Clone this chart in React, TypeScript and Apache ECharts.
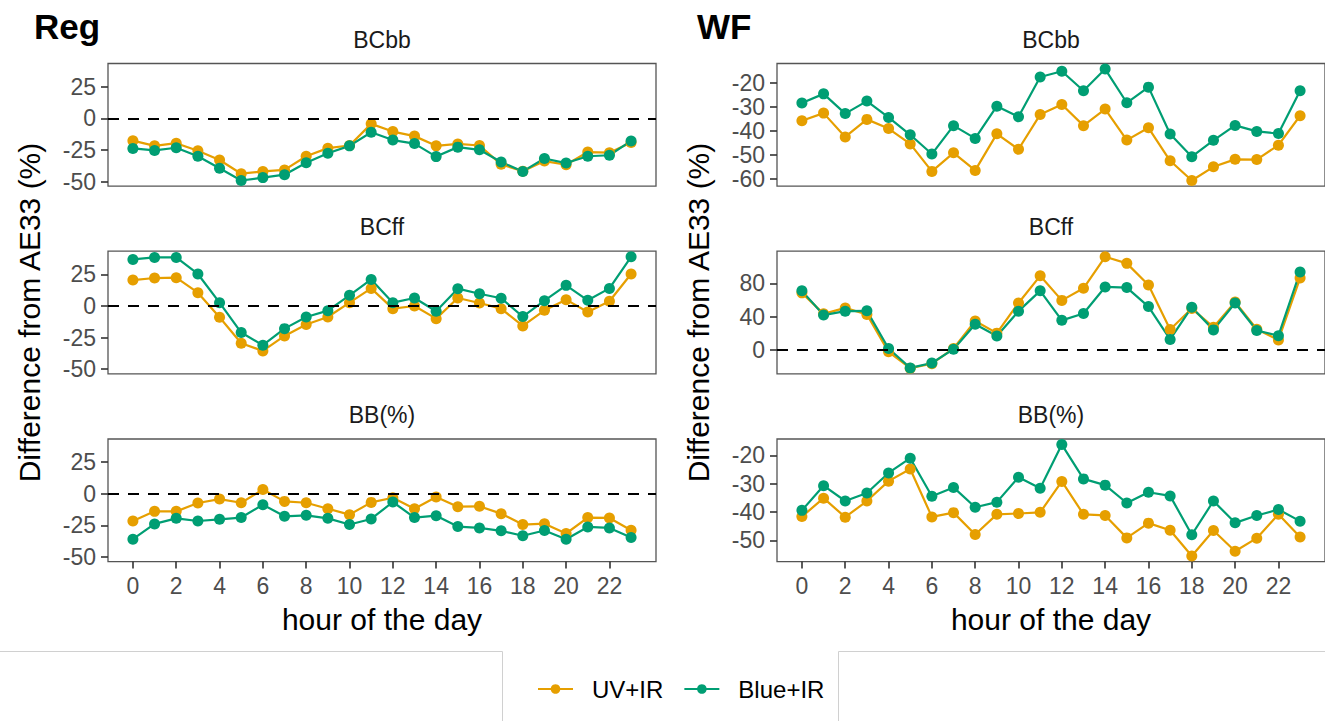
import React, { useEffect, useRef } from "react";
import * as echarts from "echarts";

const HOURS = [0, 1, 2, 3, 4, 5, 6, 7, 8, 9, 10, 11, 12, 13, 14, 15, 16, 17, 18, 19, 20, 21, 22, 23];
const X_TICKS = [0, 2, 4, 6, 8, 10, 12, 14, 16, 18, 20, 22];

// Reg
const REG_BCBB_UV = [-17.7, -21.8, -19.7, -25.6, -33, -43.8, -42, -40.8, -30, -23.6, -21.5, -4.4, -10.5, -14.1, -21.8, -20.3, -21.5, -36.4, -41.8, -33.8, -36.7, -26.7, -27.2, -19.2];
const REG_BCBB_BLUE = [-23.8, -25.4, -23.3, -30, -39.5, -49.2, -46.9, -44.6, -35.1, -27.7, -21.8, -11, -17.2, -20, -30.3, -22.8, -24.9, -34.6, -42, -31.8, -35.4, -30, -29.2, -17.9];
const REG_BCFF_UV = [20.5, 22.1, 22.4, 10.5, -8.9, -29.5, -35.5, -23.7, -14.7, -8.7, 2.6, 13.9, -2.1, 0, -10, 6.3, 2.4, -2.1, -15.8, -3.4, 5, -4.7, 3.7, 25.3];
const REG_BCFF_BLUE = [36.8, 38.4, 38.4, 25.3, 2.6, -21, -31, -17.9, -8.7, -3.7, 8.4, 21, 2.6, 6.3, -4.2, 13.7, 9.7, 6.1, -8.4, 4.2, 16.3, 4.5, 13.9, 38.9];
const REG_BB_UV = [-21.5, -13.9, -13.9, -7.3, -4.2, -7.1, 3.4, -6, -7.1, -11.8, -16.5, -6.8, -3.1, -11.8, -2.6, -10.2, -9.9, -15.7, -24.3, -23.6, -31.4, -18.8, -19.1, -28.8];
const REG_BB_BLUE = [-35.9, -23.8, -19.4, -21.5, -20.2, -18.8, -8.6, -17.8, -17, -19.4, -24.3, -19.9, -6.5, -18.8, -17.3, -25.9, -27, -29.3, -33.2, -29, -35.9, -26.2, -27, -34.6];
const REG_TICKS = [-50, -25, 0, 25];

// WF
const WF_BCBB_UV = [-35.9, -32.7, -42.6, -35.3, -39.1, -45.5, -56.9, -49.2, -56.5, -41.3, -47.7, -33.3, -29.1, -37.9, -31, -43.9, -38.8, -52.5, -60.7, -55, -51.9, -52, -46, -33.8];
const WF_BCBB_BLUE = [-28.5, -24.7, -32.9, -27.7, -34.5, -41.7, -49.7, -37.9, -43.2, -29.8, -34.2, -17.7, -15.3, -23.4, -14.4, -28.4, -21.9, -41.4, -50.8, -44, -37.8, -40.3, -41.2, -23.4];
const WF_BCFF_UV = [68.6, 43.5, 50.6, 42.7, -2, -21.6, -16.1, 2, 34.9, 20.4, 56.5, 89, 59.6, 74.1, 111.8, 103.9, 78, 24.7, 49.8, 27.5, 57.6, 25.1, 12.2, 86.3];
const WF_BCFF_BLUE = [71, 42, 46.7, 47.1, 2, -21.2, -15.3, 1.2, 31, 16.9, 46.7, 71, 35.7, 43.9, 75.7, 74.9, 52.2, 12.9, 51.4, 24.3, 56.5, 23.5, 17.3, 93.7];
const WF_BB_UV = [-41.6, -35.1, -41.8, -36.1, -29.1, -24.8, -41.7, -40.2, -47.9, -40.8, -40.5, -40.1, -29.2, -40.8, -41.2, -49.1, -43.9, -46.4, -55.5, -46.5, -53.8, -49.2, -40.8, -48.8];
const WF_BB_BLUE = [-39.4, -30.7, -36.1, -33.3, -26.2, -21, -34.4, -31.3, -38.3, -36.5, -27.7, -31.6, -16.2, -28.3, -30.5, -36.8, -33, -34.3, -48, -36.1, -43.8, -41.2, -39.1, -43.2];
const WF_BCBB_TICKS = [-60, -50, -40, -30, -20];
const WF_BCFF_TICKS = [0, 40, 80];
const WF_BB_TICKS = [-50, -40, -30, -20];

const COL_TAGS = ["Reg", "WF"];
const STRIPS = ["BCbb", "BCff", "BB(%)"];
const SERIES_NAMES = ["UV+IR", "Blue+IR"];
const COLORS = ["#E69F00", "#009E73"];

const FONT = "Liberation Sans";
const COL_LEFT = [108, 777];
const PANEL_W = 548;
const ROW_TOP = [63.5, 251.2, 439];
const PANEL_H = 122.6;

const expand = (arrs: number[][]) => {
  const all = arrs.flat();
  const lo = Math.min(...all);
  const hi = Math.max(...all);
  const pad = (hi - lo) * 0.05;
  return [lo - pad, hi + pad];
};

const App: React.FC = () => {
  const chartRef = useRef<HTMLDivElement>(null);

  useEffect(() => {
    if (!chartRef.current) return;
    const chart = echarts.init(chartRef.current, null, { renderer: "svg" });

    const regRange = expand([REG_BCBB_UV, REG_BCBB_BLUE, REG_BCFF_UV, REG_BCFF_BLUE, REG_BB_UV, REG_BB_BLUE]);
    const panels = [
      { col: 0, row: 0, uv: REG_BCBB_UV, blue: REG_BCBB_BLUE, ticks: REG_TICKS, range: regRange, zero: true },
      { col: 0, row: 1, uv: REG_BCFF_UV, blue: REG_BCFF_BLUE, ticks: REG_TICKS, range: regRange, zero: true },
      { col: 0, row: 2, uv: REG_BB_UV, blue: REG_BB_BLUE, ticks: REG_TICKS, range: regRange, zero: true },
      { col: 1, row: 0, uv: WF_BCBB_UV, blue: WF_BCBB_BLUE, ticks: WF_BCBB_TICKS, range: expand([WF_BCBB_UV, WF_BCBB_BLUE]), zero: false },
      { col: 1, row: 1, uv: WF_BCFF_UV, blue: WF_BCFF_BLUE, ticks: WF_BCFF_TICKS, range: expand([WF_BCFF_UV, WF_BCFF_BLUE]), zero: true },
      { col: 1, row: 2, uv: WF_BB_UV, blue: WF_BB_BLUE, ticks: WF_BB_TICKS, range: expand([WF_BB_UV, WF_BB_BLUE]), zero: false },
    ];

    const grid = panels.map((p) => ({
      left: COL_LEFT[p.col],
      top: ROW_TOP[p.row],
      width: PANEL_W,
      height: PANEL_H,
      show: true,
      borderColor: "#555555",
      borderWidth: 1.3,
      backgroundColor: "transparent",
    }));

    const tickStyle = { color: "#333333", width: 1.6 };
    const labelStyle = { color: "#4D4D4D", fontSize: 23, fontFamily: FONT };
    const titleStyle = { fontSize: 30, color: "#000", fontFamily: FONT };

    const xAxis = panels.map((p, i) => {
      const bottom = p.row === 2;
      return {
        type: "value",
        gridIndex: i,
        min: -1.15,
        max: 24.15,
        axisLine: { show: false, onZero: false },
        splitLine: { show: false },
        axisTick: { show: bottom, customValues: X_TICKS, length: 7, lineStyle: tickStyle },
        axisLabel: { show: bottom, customValues: X_TICKS, margin: 13, ...labelStyle },
        name: bottom ? "hour of the day" : "",
        nameLocation: "middle",
        nameGap: 43,
        nameTextStyle: titleStyle,
      };
    });

    const yAxis = panels.map((p, i) => ({
      type: "value",
      gridIndex: i,
      min: p.range[0],
      max: p.range[1],
      axisLine: { show: false, onZero: false },
      splitLine: { show: false },
      axisTick: { show: true, customValues: p.ticks, length: 7, lineStyle: tickStyle },
      axisLabel: { customValues: p.ticks, margin: 12, ...labelStyle },
      name: p.row === 1 ? "Difference from AE33 (%)" : "",
      nameLocation: "middle",
      nameRotate: 90,
      nameGap: 64,
      nameTextStyle: titleStyle,
    }));

    const series: any[] = [];
    panels.forEach((p, i) => {
      [p.uv, p.blue].forEach((vals, k) => {
        series.push({
          type: "line",
          name: SERIES_NAMES[k],
          xAxisIndex: i,
          yAxisIndex: i,
          data: HOURS.map((h, j) => [h, vals[j]]),
          symbol: "circle",
          symbolSize: 11,
          color: COLORS[k],
          lineStyle: { width: 2.2, color: COLORS[k] },
          itemStyle: { color: COLORS[k] },
          markLine:
            k === 0 && p.zero
              ? {
                  silent: true,
                  symbol: "none",
                  label: { show: false },
                  lineStyle: { color: "#000", width: 2.2, type: [11, 9] },
                  data: [{ yAxis: 0 }],
                }
              : undefined,
        });
      });
    });

    const graphic: any[] = [];
    COL_TAGS.forEach((t, c) => {
      graphic.push({
        type: "text",
        x: c === 0 ? 34 : 697,
        y: 26,
        style: { text: t, font: `bold 35px "${FONT}"`, fill: "#000", textVerticalAlign: "middle" },
      });
      STRIPS.forEach((s, r) => {
        graphic.push({
          type: "text",
          x: COL_LEFT[c] + PANEL_W / 2,
          y: ROW_TOP[r] - 24,
          style: { text: s, font: `23px "${FONT}"`, fill: "#1A1A1A", textAlign: "center", textVerticalAlign: "middle" },
        });
      });
    });
    const boxStyle = { stroke: "#D0D0D0", lineWidth: 1 };
    graphic.push(
      { type: "line", shape: { x1: 0, y1: 651.5, x2: 502.5, y2: 651.5 }, style: boxStyle },
      { type: "line", shape: { x1: 502.5, y1: 651.5, x2: 502.5, y2: 721 }, style: boxStyle },
      { type: "line", shape: { x1: 838.5, y1: 651.5, x2: 838.5, y2: 721 }, style: boxStyle },
      { type: "line", shape: { x1: 838.5, y1: 651.5, x2: 1325, y2: 651.5 }, style: boxStyle }
    );

    chart.setOption({
      animation: false,
      backgroundColor: "#ffffff",
      textStyle: { fontFamily: FONT },
      grid,
      xAxis,
      yAxis,
      series,
      graphic,
      legend: {
        data: SERIES_NAMES,
        left: 532,
        top: 672,
        itemWidth: 35,
        itemHeight: 12,
        itemGap: 20,
        textStyle: { fontSize: 24, color: "#000", fontFamily: FONT, padding: [0, 0, 0, 14] },
      },
    });

    return () => {
      chart.dispose();
    };
  }, []);

  return (
    <div
      ref={chartRef}
      style={{ position: "fixed", left: 0, top: 0, width: "1325px", height: "721px", background: "#fff" }}
    />
  );
};

export default App;
